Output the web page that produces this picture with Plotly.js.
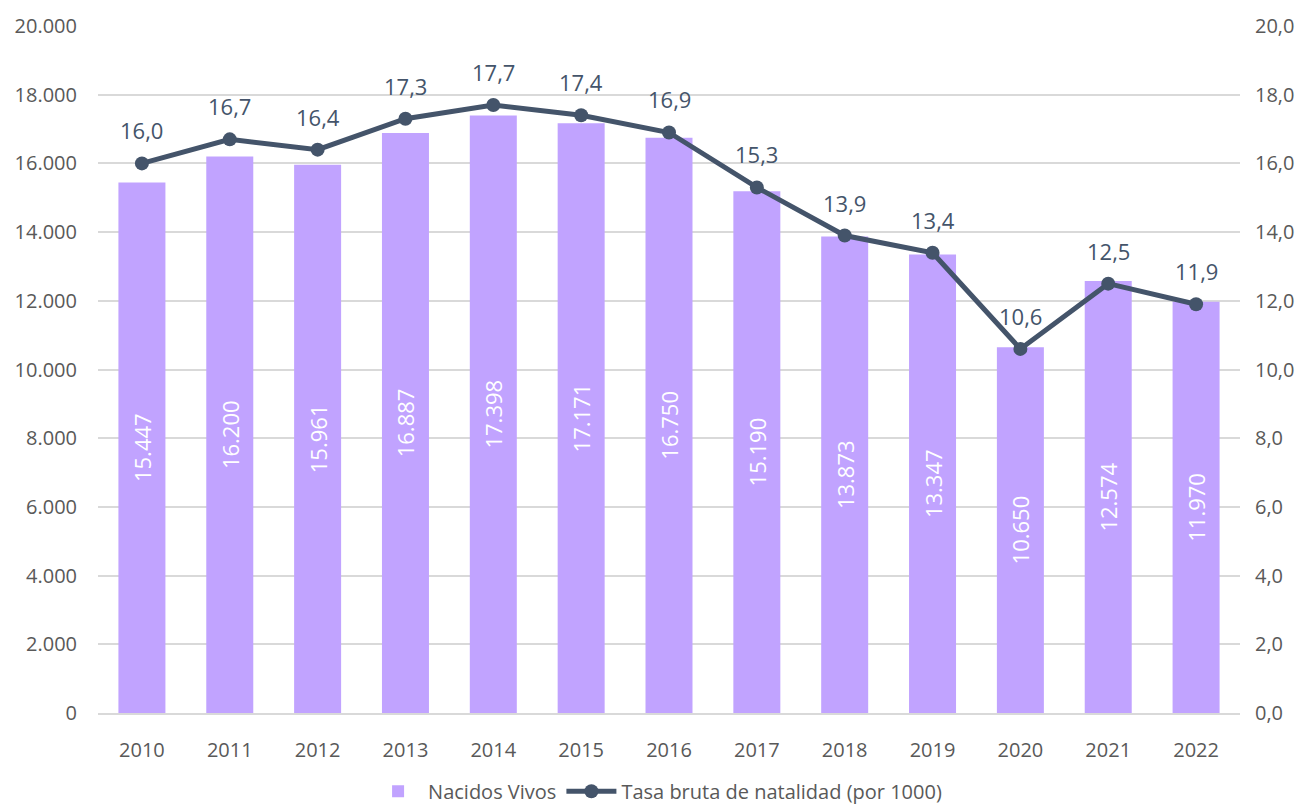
<!DOCTYPE html>
<html>
<head>
<meta charset="utf-8">
<script src="https://cdn.plot.ly/plotly-3.0.1.min.js"></script>
<style>html,body{margin:0;padding:0;background:#fff;}#chart{width:1305px;height:807px;}</style>
</head>
<body>
<div id="chart"></div>
<script>
const years = ['2010','2011','2012','2013','2014','2015','2016','2017','2018','2019','2020','2021','2022'];
const nacidosVivos = [15447,16200,15961,16887,17398,17171,16750,15190,13873,13347,10650,12574,11970];
const tasaBruta = [16.0,16.7,16.4,17.3,17.7,17.4,16.9,15.3,13.9,13.4,10.6,12.5,11.9];
const leftTicks = [0,2000,4000,6000,8000,10000,12000,14000,16000,18000,20000];
const rightTicks = [0,2,4,6,8,10,12,14,16,18,20];

const font = 'Open Sans, Noto Sans, sans-serif';
const lineColor = '#44546A';
const traces = [
  {
    type:'bar', name:'Nacidos Vivos', x:years, y:nacidosVivos,
    legendgroup:'a',
    marker:{color:'#C1A3FF'},
    texttemplate:'%{y:,d}', textposition:'inside', insidetextanchor:'middle', textangle:-90,
    textfont:{color:'#ffffff', size:22, family:font},
    hoverinfo:'x+y'
  },
  {
    type:'scatter', mode:'lines+markers', name:'Tasa bruta de natalidad (por 1000)',
    legendgroup:'b',
    x:years, y:tasaBruta, yaxis:'y2',
    line:{color:lineColor, width:5},
    marker:{color:lineColor, size:14}
  }
];
const annotations = years.map((yr, i) => ({
  x: i, y: tasaBruta[i], xref:'x', yref:'y2',
  text: tasaBruta[i].toFixed(1).replace('.', ','),
  showarrow:false, yanchor:'bottom', yshift:16,
  font:{color:lineColor, size:22, family:font}
}));
const layout = {
  width:1305, height:807,
  margin:{l:98, r:65, t:26, b:94, autoexpand:false},
  separators:',.',
  paper_bgcolor:'#fff', plot_bgcolor:'#fff',
  font:{family:font, color:'#595959', size:20},
  bargap:0.465,
  showlegend:true,
  annotations: annotations,
  legend:{orientation:'h', x:0.49, xanchor:'center', y:-0.114, yanchor:'middle', traceorder:'grouped', tracegroupgap:40, font:{size:20, color:'#595959'}, itemwidth:50, bgcolor:'rgba(0,0,0,0)'},
  xaxis:{type:'category', range:[-0.5,12.5], showgrid:false, showline:true, linecolor:'#d9d9d9', linewidth:2, ticks:'', tickfont:{size:20, color:'#595959'}, ticklabelstandoff:18},
  yaxis:{range:[0,20000], tickvals:leftTicks, tickformat:',d', showgrid:true, gridcolor:'#d9d9d9', gridwidth:2, zeroline:false, ticks:'', tickfont:{size:20,color:'#595959'}, ticklabelstandoff:20},
  yaxis2:{range:[0,20], tickvals:rightTicks, tickformat:'.1f', overlaying:'y', side:'right', showgrid:false, zeroline:false, ticks:'', tickfont:{size:20,color:'#595959'}, ticklabelstandoff:14}
};
Plotly.newPlot('chart', traces, layout, {displayModeBar:false, responsive:false});
</script>
</body>
</html>
